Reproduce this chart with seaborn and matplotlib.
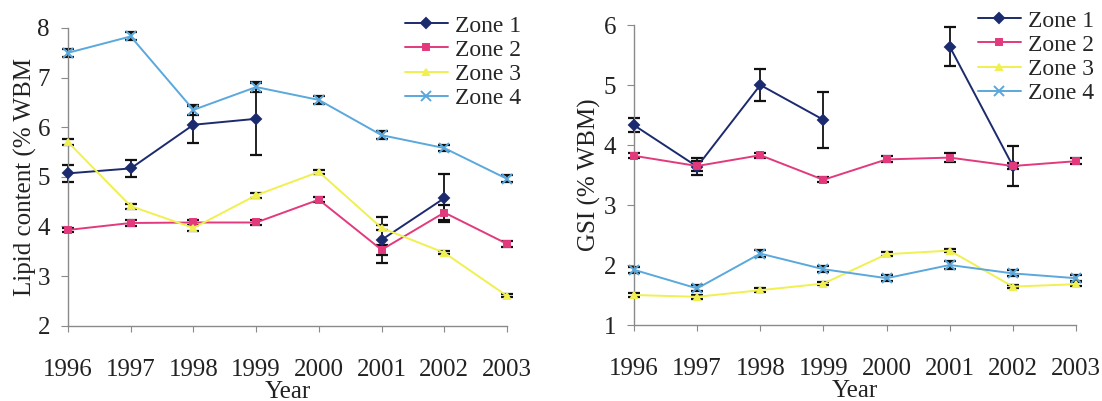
import numpy as np
import pandas as pd
import matplotlib
matplotlib.use("Agg")
import matplotlib.pyplot as plt
import seaborn as sns
from matplotlib import font_manager

years = [1996, 1997, 1998, 1999, 2000, 2001, 2002, 2003]
zones = ["Zone 1", "Zone 2", "Zone 3", "Zone 4"]

# Lipid content (% WBM)
lipid_z1 = [5.07, 5.17, 6.05, 6.17, np.nan, 3.73, 4.57, np.nan]
lipid_z1_err = [0.17, 0.17, 0.37, 0.72, np.nan, 0.47, 0.48, np.nan]
lipid_z2 = [3.93, 4.07, 4.08, 4.08, 4.54, 3.53, 4.28, 3.65]
lipid_z2_err = [0.04, 0.06, 0.06, 0.06, 0.05, 0.10, 0.15, 0.06]
lipid_z3 = [5.70, 4.41, 3.97, 4.63, 5.10, 3.97, 3.47, 2.60]
lipid_z3_err = [0.06, 0.05, 0.06, 0.05, 0.04, 0.05, 0.03, 0.03]
lipid_z4 = [7.50, 7.83, 6.35, 6.81, 6.55, 5.84, 5.58, 4.96]
lipid_z4_err = [0.08, 0.08, 0.10, 0.10, 0.08, 0.08, 0.06, 0.07]

# GSI (% WBM)
gsi_z1 = [4.33, 3.64, 5.00, 4.42, np.nan, 5.64, 3.65, np.nan]
gsi_z1_err = [0.12, 0.14, 0.27, 0.47, np.nan, 0.32, 0.33, np.nan]
gsi_z2 = [3.82, 3.65, 3.83, 3.42, 3.76, 3.79, 3.65, 3.73]
gsi_z2_err = [0.04, 0.08, 0.04, 0.04, 0.05, 0.08, 0.05, 0.05]
gsi_z3 = [1.50, 1.47, 1.58, 1.69, 2.18, 2.24, 1.64, 1.68]
gsi_z3_err = [0.03, 0.03, 0.03, 0.03, 0.03, 0.03, 0.03, 0.03]
gsi_z4 = [1.92, 1.61, 2.19, 1.93, 1.78, 2.00, 1.86, 1.78]
gsi_z4_err = [0.05, 0.05, 0.06, 0.05, 0.05, 0.06, 0.05, 0.05]

colors = {"Zone 1": "#1c2a6e", "Zone 2": "#e23a7c", "Zone 3": "#f0f050", "Zone 4": "#5aa8dc"}
markers = {"Zone 1": "D", "Zone 2": "s", "Zone 3": "^", "Zone 4": "x"}
msizes = {"Zone 1": 5.5, "Zone 2": 4, "Zone 3": 4.5, "Zone 4": 6.5}

sns.set_style("ticks")
serif_names = {f.name for f in font_manager.fontManager.ttflist}
serif_choice = [n for n in ["Liberation Serif", "Times New Roman", "Nimbus Roman",
                            "DejaVu Serif"] if n in serif_names]
plt.rcParams["font.family"] = "serif"
plt.rcParams["font.serif"] = serif_choice


def build_df(vals, errs):
    rows = []
    for z, v, e in zip(zones, vals, errs):
        seg = 0
        for y, val, err in zip(years, v, e):
            if np.isnan(val):
                seg += 1
                continue
            rows.append({"Year": y, "value": val, "err": err, "zone": z,
                         "unit": f"{z}-{seg}"})
    return pd.DataFrame(rows)


def draw(ax, df, ylim, yticks, ylabel, ylabelpad, legend_anchor):
    for z in zones:
        sub = df[df["zone"] == z]
        ax.errorbar(sub["Year"], sub["value"], yerr=sub["err"], fmt="none",
                    ecolor="#111111", elinewidth=1.3, capsize=4.3, capthick=1.6,
                    clip_on=False, zorder=2)
    handles = {}
    for z in zones:
        sub = df[df["zone"] == z]
        n_before = len(ax.lines)
        sns.lineplot(data=sub, x="Year", y="value", units="unit", estimator=None,
                     color=colors[z], marker=markers[z], markersize=msizes[z],
                     markeredgecolor=colors[z], markerfacecolor=colors[z],
                     markeredgewidth=1.4, lw=1.4, ax=ax, legend=False,
                     clip_on=False, zorder=3)
        handles[z] = ax.lines[n_before]
    ax.set_xlim(1996, 2003)
    ax.set_ylim(*ylim)
    ax.set_yticks(yticks)
    ax.set_xticks(years)
    ax.set_xticklabels([str(y) for y in years])
    for s in ["top", "right"]:
        ax.spines[s].set_visible(False)
    for s in ["left", "bottom"]:
        ax.spines[s].set_color("#8a8a8a")
        ax.spines[s].set_linewidth(1.0)
    ax.tick_params(axis="x", length=4, pad=20, labelsize=18, color="#8a8a8a",
                   labelcolor="#222222")
    ax.tick_params(axis="y", length=5, pad=8, labelsize=18, color="#8a8a8a",
                   labelcolor="#222222")
    ax.set_xlabel("Year", fontsize=18, labelpad=0, color="#222222")
    ax.set_ylabel(ylabel, fontsize=18, labelpad=ylabelpad, color="#222222")
    ax.legend([handles[z] for z in zones], zones, loc="upper left",
              bbox_to_anchor=legend_anchor, bbox_transform=fig.transFigure,
              frameon=False, fontsize=17, handlelength=1.8, handletextpad=0.3,
              labelspacing=0.11, borderpad=0, borderaxespad=0)


fig = plt.figure(figsize=(11.02, 4.01), dpi=100)
ax1 = fig.add_axes([68 / 1102, 1 - 325.7 / 401, (507 - 68) / 1102, (325.7 - 28) / 401])
ax2 = fig.add_axes([634 / 1102, 1 - 325 / 401, (1076 - 634) / 1102, (325 - 25) / 401])

df1 = build_df([lipid_z1, lipid_z2, lipid_z3, lipid_z4],
               [lipid_z1_err, lipid_z2_err, lipid_z3_err, lipid_z4_err])
df2 = build_df([gsi_z1, gsi_z2, gsi_z3, gsi_z4],
               [gsi_z1_err, gsi_z2_err, gsi_z3_err, gsi_z4_err])

draw(ax1, df1, (2, 8), [2, 3, 4, 5, 6, 7, 8], "Lipid content (% WBM", 0,
     (405 / 1102, 1 - 15 / 401))
draw(ax2, df2, (1, 6), [1, 2, 3, 4, 5, 6], "GSI (% WBM)", 2,
     (978 / 1102, 1 - 10 / 401))

fig.savefig("out.png", dpi=100)
